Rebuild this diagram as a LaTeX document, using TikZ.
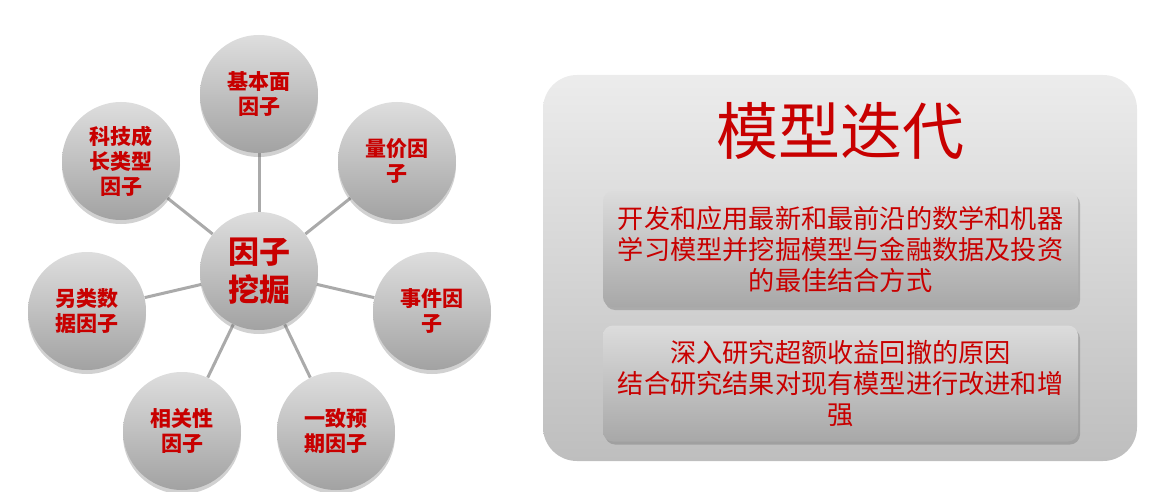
\documentclass[tikz,border=0pt]{standalone}
\usepackage{fontspec}
\setmainfont{Noto Sans CJK SC}
\usetikzlibrary{shadows,backgrounds}
\definecolor{myred}{RGB}{200,0,0}
\definecolor{lnk}{RGB}{170,170,170}
\definecolor{btop}{RGB}{222,222,222}
\definecolor{bbot}{RGB}{162,162,162}
\definecolor{ptop}{RGB}{236,236,236}
\definecolor{pbot}{RGB}{190,190,190}
\definecolor{itop}{RGB}{220,220,220}
\definecolor{ibot}{RGB}{168,168,168}
\begin{document}
\begin{tikzpicture}[x=1pt,y=-1pt,
  ball/.style={circle, minimum size=118pt, inner sep=0pt, top color=btop, bottom color=bbot,
    drop shadow={shadow xshift=0pt, shadow yshift=-4pt, opacity=0.3, fill=black!60},
    text=myred, align=center, font=\bfseries\fontsize{21}{25}\selectfont},
  hub/.style={ball, font=\bfseries\fontsize{31}{38}\selectfont},
  link/.style={draw=lnk, line width=3pt},
  panel/.style={rounded corners=34pt, top color=ptop, bottom color=pbot, inner sep=0pt},
  card/.style={rounded corners=10pt, top color=itop, bottom color=ibot, inner sep=0pt,
    minimum width=475pt, minimum height=116pt, align=center, text=myred,
    font=\fontsize{26.2}{31}\selectfont,
    drop shadow={shadow xshift=2pt, shadow yshift=-3pt, opacity=0.35, fill=black!60}},
  title/.style={text=myred, font=\fontsize{62}{70}\selectfont, inner sep=0pt}
]
\useasboundingbox (0,0) rectangle (1170,492);

% left: factor mining
\node[hub]  (c)  at (259,271) {因子\\挖掘};
\node[ball] (n1) at (259,94)  {基本面\\因子};
\node[ball] (n2) at (397,161) {量价因\\子};
\node[ball] (n3) at (432,311) {事件因\\子};
\node[ball] (n4) at (336,431) {一致预\\期因子};
\node[ball] (n5) at (182,431) {相关性\\因子};
\node[ball] (n6) at (87,311)  {另类数\\据因子};
\node[ball] (n7) at (121,161) {科技成\\长类型\\因子};

\begin{scope}[on background layer]
  \foreach \n in {n1,n2,n3,n4,n5,n6,n7} \draw[link] (c) -- (\n);
\end{scope}

% right: model iteration
\node[panel, minimum width=594pt, minimum height=386pt] (p) at (840,268) {};
\node[title] (t) at (840,131) {模型迭代};
\node[card] (b1) at (840.5,249) {开发和应用最新和最前沿的数学和机器\\学习模型并挖掘模型与金融数据及投资\\的最佳结合方式};
\node[card] (b2) at (840.5,383.5) {深入研究超额收益回撤的原因\\结合研究结果对现有模型进行改进和增\\强};
\end{tikzpicture}
\end{document}
